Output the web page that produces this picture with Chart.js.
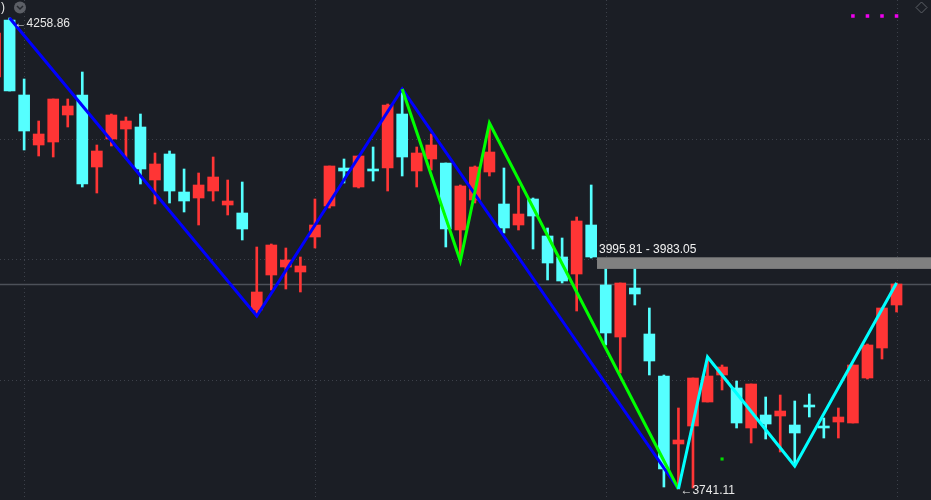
<!DOCTYPE html>
<html>
<head>
<meta charset="utf-8">
<script src="https://cdn.jsdelivr.net/npm/chart.js@4.4.1/dist/chart.umd.min.js"></script>
<style>
  html, body { margin: 0; padding: 0; background: #1b1e25; overflow: hidden; }
</style>
</head>
<body>
<canvas id="kline" width="931" height="500"></canvas>
<script>
// candles, index = position in array (0 is the one cut off at the left edge)
const OPEN  = [4194.01, 4256.66, 4174.22, 4119.26, 4122.55, 4152.24, 4174.22, 4095.07, 4125.85, 4136.85,
               4139.04, 4080.78, 4109.36, 4067.59, 4061.00, 4068.69, 4053.30, 4044.51, 3937.88, 3976.35,
               3985.15, 3979.65, 4018.13, 4052.20, 4093.97, 4073.09, 4092.88, 4093.97, 4153.33, 4090.68,
               4103.87, 4099.47, 4025.82, 4058.80, 4089.58, 4054.40, 4031.32, 4059.90, 4019.22, 3996.14,
               3977.45, 4031.32, 3965.36, 3908.20, 3962.06, 3911.50, 3865.33, 3790.58, 3810.36, 3836.75,
               3866.43, 3852.14, 3808.17, 3822.46, 3821.36, 3811.46, 3833.45, 3810.36, 3814.76, 3813.66,
               3863.13, 3896.11, 3943.38];
const CLOSE = [4242.37, 4178.62, 4134.65, 4131.35, 4169.82, 4162.13, 4076.39, 4112.66, 4152.24, 4145.64,
               4092.88, 4098.37, 4068.69, 4057.70, 4075.29, 4084.08, 4057.70, 4026.92, 3957.67, 4009.33,
               3992.84, 3986.25, 4031.32, 4096.17, 4090.68, 4107.17, 4090.68, 4163.23, 4106.07, 4110.46,
               4119.26, 4026.92, 4074.19, 4095.07, 4111.56, 4028.02, 4043.41, 4041.21, 3989.54, 3969.76,
               4035.71, 3996.14, 3912.60, 3967.56, 3955.47, 3881.82, 3763.10, 3794.98, 3863.13, 3865.33,
               3875.22, 3813.66, 3856.53, 3812.56, 3826.85, 3802.67, 3831.25, 3808.17, 3820.26, 3877.42,
               3899.41, 3940.08, 3966.46];
const HIGH  = [4245.00, 4258.86, 4191.81, 4145.64, 4169.82, 4169.82, 4199.50, 4119.26, 4153.33, 4150.04,
               4153.33, 4110.46, 4112.66, 4092.88, 4088.48, 4106.07, 4080.78, 4078.58, 4007.13, 4010.43,
               4006.03, 3996.14, 4059.90, 4096.17, 4103.87, 4107.17, 4117.06, 4164.33, 4180.82, 4117.06,
               4131.35, 4099.47, 4075.29, 4096.17, 4143.44, 4093.97, 4074.19, 4061.00, 4028.02, 4017.03,
               4040.11, 4075.29, 3990.64, 3967.56, 3984.05, 3940.08, 3866.43, 3830.15, 3863.13, 3886.21,
               3877.42, 3859.83, 3856.53, 3842.24, 3844.44, 3837.85, 3845.54, 3819.16, 3830.15, 3877.42,
               3900.50, 3940.08, 3967.56];
const LOW   = [4194.01, 4178.62, 4113.76, 4107.17, 4106.07, 4139.04, 4073.09, 4066.49, 4118.16, 4104.97,
               4076.39, 4054.40, 4055.50, 4045.61, 4031.32, 4057.70, 4042.31, 4014.83, 3931.28, 3959.86,
               3960.96, 3957.67, 4006.03, 4050.00, 4077.48, 4071.99, 4079.68, 4068.69, 4085.18, 4073.09,
               4091.78, 4007.13, 3991.74, 4055.50, 4085.18, 4022.52, 4025.82, 4004.93, 3970.86, 3967.56,
               3936.78, 3995.04, 3899.41, 3868.63, 3943.38, 3866.43, 3743.31, 3741.11, 3742.21, 3836.75,
               3849.94, 3808.17, 3791.68, 3796.07, 3781.78, 3766.39, 3820.26, 3797.17, 3797.17, 3813.66,
               3862.03, 3884.02, 3935.68];

// zigzag swings
const BLUE_X  = [1, 18, 28, 47];
const BLUE_Y  = [4258.86, 3931.28, 4180.82, 3741.11];
const GREEN_X = [28, 32, 34, 47];
const GREEN_Y = [4180.82, 3991.74, 4143.44, 3741.11];
const CYAN_X  = [47, 49, 55, 62];
const CYAN_Y  = [3741.11, 3886.21, 3766.39, 3967.56];

// small markers
const MARK_X = [59, 60, 61, 62];
const MARK_Y = [4261.06, 4261.06, 4261.06, 4261.06];
const DOT_X = [50];
const DOT_Y = [3774.09];

// zone + labels
const ZONE = [3995.81, 3983.05];
const ZONE_FROM = 41.4;
const HIGH_AT = 1, LOW_AT = 47;
const HIGH_TXT = '4258.86', LOW_TXT = '3741.11';

// grid
const GRID_X = [2, 22, 42, 62];
const GRID_Y = [4125.85, 3993.94, 3860.93];

const UP = '#ff3535';
const DOWN = '#55ffff';
const FONT = '12px "Liberation Sans", Arial, sans-serif';

const pts = (xs, ys) => xs.map((x, i) => ({ x: x, y: ys[i] }));
const isUp = i => CLOSE[i] >= OPEN[i];

const overlay = {
    id: 'overlay',
    beforeDatasetsDraw(chart) {
        const { ctx, scales: { x, y }, chartArea } = chart;
        ctx.save();
        // dotted grid
        ctx.strokeStyle = '#3d414a';
        ctx.lineWidth = 1;
        ctx.setLineDash([1, 3]);
        GRID_X.forEach(v => {
            const gx = Math.round(x.getPixelForValue(v)) + 0.5;
            ctx.beginPath();
            ctx.moveTo(gx, chartArea.top);
            ctx.lineTo(gx, chartArea.bottom);
            ctx.stroke();
        });
        GRID_Y.forEach(v => {
            const gy = Math.round(y.getPixelForValue(v)) + 0.5;
            ctx.beginPath();
            ctx.moveTo(chartArea.left, gy);
            ctx.lineTo(chartArea.right, gy);
            ctx.stroke();
        });
        ctx.setLineDash([]);
        // last price line
        const py = Math.round(y.getPixelForValue(CLOSE[CLOSE.length - 1])) + 0.5;
        ctx.strokeStyle = '#4d5159';
        ctx.lineWidth = 1.3;
        ctx.beginPath();
        ctx.moveTo(chartArea.left, py);
        ctx.lineTo(chartArea.right, py);
        ctx.stroke();
        ctx.restore();
    },
    afterDatasetsDraw(chart) {
        const { ctx, scales: { x, y }, chartArea } = chart;
        ctx.save();
        // zone box
        const x0 = x.getPixelForValue(ZONE_FROM);
        const yTop = y.getPixelForValue(ZONE[0]);
        const yBot = y.getPixelForValue(ZONE[1]);
        ctx.fillStyle = '#808080';
        ctx.fillRect(x0, yTop, chartArea.right - x0, yBot - yTop);
        ctx.font = FONT;
        ctx.fillStyle = '#f2f2f2';
        ctx.textBaseline = 'bottom';
        ctx.textAlign = 'left';
        ctx.fillText(ZONE[0].toFixed(2) + ' - ' + ZONE[1].toFixed(2), x0 + 2, yTop - 2);

        // high / low labels
        ctx.textBaseline = 'middle';
        ctx.fillStyle = '#e8e8e8';
        ctx.fillText('\u2190' + HIGH_TXT, x.getPixelForValue(HIGH_AT) + 5, y.getPixelForValue(HIGH[HIGH_AT]) + 6);
        ctx.fillText('\u2190' + LOW_TXT, x.getPixelForValue(LOW_AT) + 2, y.getPixelForValue(LOW[LOW_AT]) + 2);

        // header bits
        ctx.fillStyle = '#e8e8e8';
        ctx.fillText(')', 1, 8);
        ctx.fillStyle = '#5c5f66';
        ctx.beginPath();
        ctx.arc(20, 7.5, 6, 0, Math.PI * 2);
        ctx.fill();
        ctx.strokeStyle = '#25282e';
        ctx.lineWidth = 1.5;
        ctx.beginPath();
        ctx.moveTo(17, 6);
        ctx.lineTo(20, 9);
        ctx.lineTo(23, 6);
        ctx.stroke();

        ctx.strokeStyle = '#5e6168';
        ctx.lineWidth = 1;
        ctx.beginPath();
        ctx.moveTo(921.5, 2);
        ctx.lineTo(927, 7.5);
        ctx.lineTo(921.5, 13);
        ctx.lineTo(916, 7.5);
        ctx.closePath();
        ctx.stroke();
        ctx.restore();
    }
};

const ctx = document.getElementById('kline');
new Chart(ctx, {
    type: 'bar',
    data: {
        datasets: [
            {
                type: 'line', data: pts(CYAN_X, CYAN_Y), borderColor: '#00ffff',
                borderWidth: 3, pointRadius: 0, order: 0
            },
            {
                type: 'line', data: pts(GREEN_X, GREEN_Y), borderColor: '#00ff00',
                borderWidth: 3, pointRadius: 0, order: 1
            },
            {
                type: 'line', data: pts(BLUE_X, BLUE_Y), borderColor: '#0000ff',
                borderWidth: 3, pointRadius: 0, order: 2
            },
            {
                type: 'line', data: pts(MARK_X, MARK_Y), showLine: false, pointStyle: 'rect',
                pointRadius: 2.5, pointBorderWidth: 0, pointBackgroundColor: '#ee00ee', order: 3
            },
            {
                type: 'line', data: pts(DOT_X, DOT_Y), showLine: false, pointStyle: 'rect',
                pointRadius: 2.2, pointBorderWidth: 0, pointBackgroundColor: '#00dd00', order: 3
            },
            {
                data: OPEN.map((o, i) => ({ x: i, y: [o, CLOSE[i]] })),
                backgroundColor: c => isUp(c.dataIndex) ? UP : DOWN,
                barThickness: 11, grouped: false, borderWidth: 0, order: 4
            },
            {
                data: OPEN.map((o, i) => ({ x: i, y: [LOW[i], HIGH[i]] })),
                backgroundColor: c => isUp(c.dataIndex) ? UP : DOWN,
                barThickness: 2, grouped: false, borderWidth: 0, order: 5
            }
        ]
    },
    options: {
        responsive: false,
        animation: false,
        devicePixelRatio: 1,
        layout: { padding: 0, autoPadding: false },
        plugins: { legend: { display: false }, tooltip: { enabled: false } },
        scales: {
            x: { type: 'linear', display: false, offset: false, min: 0.34, max: 64.37 },
            y: { type: 'linear', display: false, min: 3729.02, max: 4278.65 }
        }
    },
    plugins: [overlay]
});
</script>
</body>
</html>
